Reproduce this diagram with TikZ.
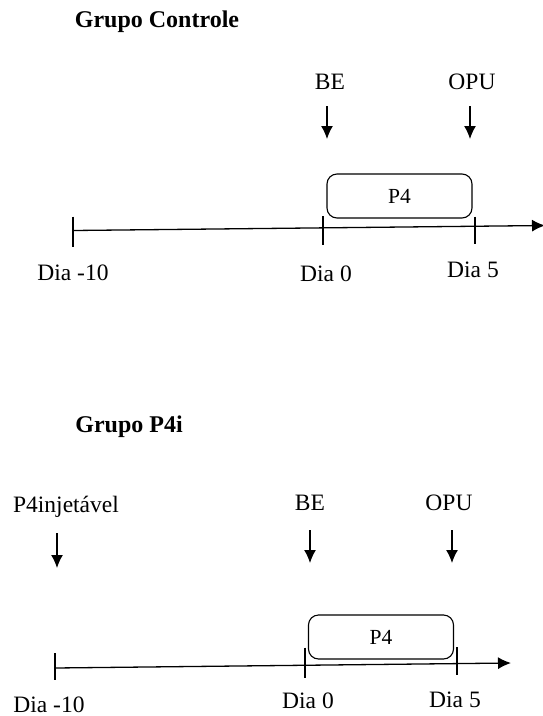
\documentclass[tikz,border=0pt]{standalone}
\usepackage{fontspec}
\setmainfont{Liberation Serif}
\usetikzlibrary{arrows.meta}
\usetikzlibrary{positioning}

\begin{document}
\begin{tikzpicture}[>={Latex[length=13pt,width=12pt]},x=1pt,y=-1pt,line width=1.3pt,font=\fontsize{23.5}{28}\selectfont]
\tikzstyle{v}=[inner sep=0pt,anchor=base]
\tikzstyle{t}=[inner sep=0pt,anchor=base,font=\fontsize{24}{28}\selectfont\bfseries]
\tikzstyle{p}=[draw,line width=1.1pt,rounded corners=10pt,minimum width=145pt,minimum height=44pt,inner sep=0pt,font=\fontsize{21.5}{24}\selectfont]
\useasboundingbox (0,0) rectangle (543,716);
% Grupo Controle
\node[t]	(tC)	at (157,27)		{Grupo Controle};
\node[v]	(beC)	at (330,89)		{BE};
\node[v]	(opuC)	at (472,89)		{OPU};
\node[p]	(p4C)	at (399.5,196)	{P4};
\node[v]	(d10C)	at (73,280)		{Dia -10};
\node[v]	(d0C)	at (326,281)	{Dia 0};
\node[v]	(d5C)	at (473,277)	{Dia 5};
\coordinate	(aBEC)	at (327,106);
\coordinate	(bBEC)	at (327,139);
\coordinate	(aOPUC)	at (470,106);
\coordinate	(bOPUC)	at (470,139);
\coordinate	(x0C)	at (73,230.5);
\coordinate	(x1C)	at (323,228);
\coordinate	(x2C)	at (475,226.5);
\coordinate	(xEC)	at (545,225.5);
\draw[->]	(aBEC)	--	(bBEC);
\draw[->]	(aOPUC)	--	(bOPUC);
\draw[->]	(x0C)	--	(xEC);
\draw	([yshift=14pt]x0C) -- ([yshift=-16pt]x0C);
\draw	([yshift=12pt]x1C) -- ([yshift=-17pt]x1C);
\draw	([yshift=10pt]x2C) -- ([yshift=-17pt]x2C);
% Grupo P4i
\node[t]	(tP)	at (129,432)	{Grupo P4i};
\node[v]	(injP)	at (66,512)		{P4injetável};
\node[v]	(beP)	at (310,510)	{BE};
\node[v]	(opuP)	at (449,510)	{OPU};
\node[p]	(p4P)	at (381,637)	{P4};
\node[v]	(d10P)	at (49,712)		{Dia -10};
\node[v]	(d0P)	at (308,708)	{Dia 0};
\node[v]	(d5P)	at (455,707)	{Dia 5};
\coordinate	(aINJP)	at (57,533);
\coordinate	(bINJP)	at (57,568);
\coordinate	(aBEP)	at (310,530);
\coordinate	(bBEP)	at (310,563);
\coordinate	(aOPUP)	at (452,530);
\coordinate	(bOPUP)	at (452,563);
\coordinate	(x0P)	at (55,668);
\coordinate	(x1P)	at (305,665.5);
\coordinate	(x2P)	at (457,664);
\coordinate	(xEP)	at (511,663);
\draw[->]	(aINJP)	--	(bINJP);
\draw[->]	(aBEP)	--	(bBEP);
\draw[->]	(aOPUP)	--	(bOPUP);
\draw[->]	(x0P)	--	(xEP);
\draw	([yshift=15pt]x0P) -- ([yshift=-12pt]x0P);
\draw	([yshift=18pt]x1P) -- ([yshift=-12pt]x1P);
\draw	([yshift=17pt]x2P) -- ([yshift=-11pt]x2P);
\end{tikzpicture}
\end{document}
